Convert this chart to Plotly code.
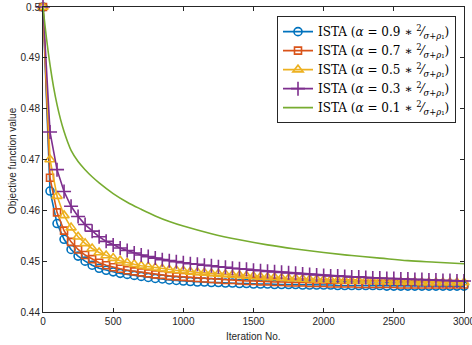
import plotly.graph_objects as go

iterations = list(range(0, 3001, 50))

ista_09 = [0.5000, 0.4638, 0.4574, 0.4543, 0.4523, 0.4510, 0.4500, 0.4492, 0.4486, 0.4482,
           0.4479, 0.4476, 0.4474, 0.4472, 0.4470, 0.4468, 0.4466, 0.4465, 0.4463, 0.4462,
           0.4461, 0.4460, 0.4459, 0.4459, 0.4458, 0.4458, 0.4457, 0.4457, 0.4456, 0.4456,
           0.4455, 0.4455, 0.4455, 0.4454, 0.4454, 0.4454, 0.4454, 0.4453, 0.4453, 0.4453,
           0.4453, 0.4453, 0.4452, 0.4452, 0.4452, 0.4452, 0.4452, 0.4452, 0.4452, 0.4451,
           0.4451, 0.4451, 0.4451, 0.4451, 0.4451, 0.4451, 0.4451, 0.4451, 0.4451, 0.4451,
           0.4451]

ista_07 = [0.5000, 0.4664, 0.4596, 0.4560, 0.4538, 0.4523, 0.4512, 0.4504, 0.4497, 0.4492,
           0.4488, 0.4485, 0.4482, 0.4480, 0.4478, 0.4476, 0.4474, 0.4473, 0.4471, 0.4470,
           0.4469, 0.4468, 0.4467, 0.4466, 0.4465, 0.4464, 0.4463, 0.4463, 0.4462, 0.4461,
           0.4461, 0.4460, 0.4460, 0.4459, 0.4459, 0.4458, 0.4458, 0.4458, 0.4457, 0.4457,
           0.4457, 0.4456, 0.4456, 0.4456, 0.4456, 0.4455, 0.4455, 0.4455, 0.4455, 0.4455,
           0.4455, 0.4454, 0.4454, 0.4454, 0.4454, 0.4454, 0.4454, 0.4454, 0.4454, 0.4454,
           0.4454]

ista_05 = [0.5000, 0.4700, 0.4628, 0.4590, 0.4566, 0.4548, 0.4535, 0.4525, 0.4517, 0.4511,
           0.4506, 0.4501, 0.4497, 0.4494, 0.4491, 0.4489, 0.4487, 0.4485, 0.4483, 0.4482,
           0.4481, 0.4479, 0.4478, 0.4477, 0.4476, 0.4475, 0.4474, 0.4473, 0.4472, 0.4471,
           0.4470, 0.4469, 0.4468, 0.4468, 0.4467, 0.4466, 0.4466, 0.4465, 0.4464, 0.4464,
           0.4463, 0.4463, 0.4462, 0.4462, 0.4461, 0.4461, 0.4461, 0.4460, 0.4460, 0.4460,
           0.4459, 0.4459, 0.4459, 0.4459, 0.4458, 0.4458, 0.4458, 0.4458, 0.4458, 0.4458,
           0.4458]

ista_03 = [0.5000, 0.4754, 0.4680, 0.4637, 0.4608, 0.4588, 0.4572, 0.4559, 0.4548, 0.4539,
           0.4532, 0.4526, 0.4521, 0.4516, 0.4512, 0.4509, 0.4506, 0.4503, 0.4501, 0.4499,
           0.4497, 0.4495, 0.4494, 0.4492, 0.4491, 0.4489, 0.4488, 0.4486, 0.4485, 0.4484,
           0.4482, 0.4481, 0.4480, 0.4479, 0.4478, 0.4477, 0.4476, 0.4475, 0.4474, 0.4473,
           0.4472, 0.4471, 0.4471, 0.4470, 0.4469, 0.4469, 0.4468, 0.4467, 0.4467, 0.4466,
           0.4466, 0.4465, 0.4465, 0.4464, 0.4464, 0.4463, 0.4463, 0.4462, 0.4462, 0.4461,
           0.4461]

green_iter = [0, 25, 50, 75, 100, 125, 150, 175, 200, 250, 300, 350, 400, 500, 600, 700,
              800, 900, 1000, 1200, 1400, 1600, 1800, 2000, 2200, 2400, 2600, 2800, 3000]
ista_01 = [0.5000, 0.4938, 0.4886, 0.4843, 0.4808, 0.4779, 0.4755, 0.4735, 0.4718, 0.4696,
           0.4680, 0.4666, 0.4654, 0.4633, 0.4616, 0.4602, 0.4589, 0.4578, 0.4569, 0.4554,
           0.4542, 0.4532, 0.4524, 0.4517, 0.4511, 0.4506, 0.4501, 0.4498, 0.4495]

x_ticks = [0, 500, 1000, 1500, 2000, 2500, 3000]
y_ticks = [0.44, 0.45, 0.46, 0.47, 0.48, 0.49, 0.50]
y_ticktext = ["0.44", "0.45", "0.46", "0.47", "0.48", "0.49", "0.5"]

labels = ["0.9", "0.7", "0.5", "0.3", "0.1"]
colors = ["#0072BD", "#D95319", "#EDB120", "#7E2F8E", "#77AC30"]
symbols = ["circle-open", "square-open", "triangle-up-open", "cross-thin-open", None]
sizes = [8, 7, 9, 10]


def name_for(a):
    return ("ISTA (<i>α</i> = " + a + " ∗ <sup>2</sup>⁄<sub><i>σ</i>+<i>ρ</i>₁</sub>)")


fig = go.Figure()
series = [ista_09, ista_07, ista_05, ista_03]
for i, ys in enumerate(series):
    fig.add_trace(go.Scatter(
        x=iterations, y=ys, mode="lines+markers", name=name_for(labels[i]),
        line=dict(color=colors[i], width=1.6),
        marker=dict(symbol=symbols[i], size=sizes[i], color=colors[i],
                    line=dict(color=colors[i], width=1.6)),
        cliponaxis=False,
    ))
fig.add_trace(go.Scatter(
    x=green_iter, y=ista_01, mode="lines", name=name_for(labels[4]),
    line=dict(color=colors[4], width=1.6, shape="spline", smoothing=1.0), cliponaxis=False,
))

tick_font = dict(family="Liberation Sans, Arial, sans-serif", size=10, color="#262626")
axis_common = dict(
    showline=True, linecolor="#262626", linewidth=1, mirror="ticks",
    ticks="inside", ticklen=4, tickcolor="#262626", showgrid=False, zeroline=False,
    tickfont=tick_font, automargin=False,
)

fig.update_layout(
    width=472, height=345,
    margin=dict(l=43, r=8, t=7, b=33),
    paper_bgcolor="white", plot_bgcolor="white",
    xaxis=dict(range=[0, 3000], tickvals=x_ticks, ticktext=[str(v) for v in x_ticks],
               ticklabeloverflow="allow", **axis_common),
    yaxis=dict(range=[0.44, 0.50], tickvals=y_ticks, ticktext=y_ticktext,
               ticklabeloverflow="allow", **axis_common),
    legend=dict(x=0.981, y=0.97, xanchor="right", yanchor="top",
                bgcolor="white", bordercolor="#262626", borderwidth=1,
                font=dict(family="DejaVu Serif, Liberation Serif, serif", size=12, color="#000000"),
                tracegroupgap=0, itemwidth=30),
    showlegend=True,
    annotations=[
        dict(text="Iteration No.", xref="paper", yref="paper", x=0.499, y=-0.079,
             xanchor="center", yanchor="middle", showarrow=False, font=tick_font),
        dict(text="Objective function value", xref="paper", yref="paper", x=-0.074, y=0.498,
             xanchor="center", yanchor="middle", showarrow=False, textangle=-90, font=tick_font),
    ],
)

fig.write_html("out.html", config={"displayModeBar": False},
               post_script="document.body.style.margin='0';document.body.style.padding='0';")
